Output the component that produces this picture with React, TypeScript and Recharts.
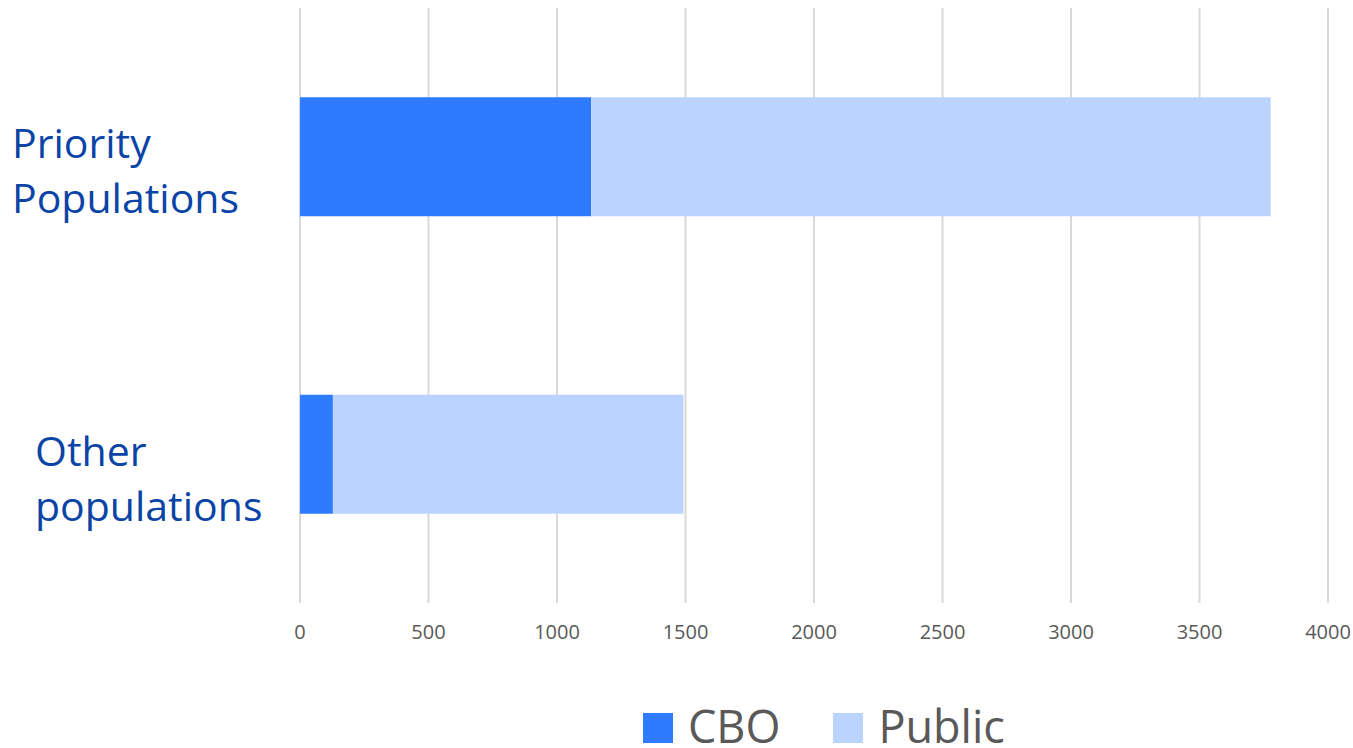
import React from "react";
import { BarChart, Bar, XAxis, YAxis, CartesianGrid, Legend } from "recharts";

const categories = ["Priority Populations", "Other populations"];
const cboValues = [1133, 128];
const publicValues = [2644, 1364];
const xTicks = [0, 500, 1000, 1500, 2000, 2500, 3000, 3500, 4000];
const seriesNames = ["CBO", "Public"];

const data = categories.map((name, i) => ({
  name,
  cbo: cboValues[i],
  pub: publicValues[i],
}));

const FONT = "'Open Sans', 'Liberation Sans', sans-serif";
const CBO_COLOR = "#2F7BFF";
const PUBLIC_COLOR = "#BBD4FF";
const LABEL_COLOR = "#0A44A6";
const GREY_TEXT = "#595959";

// label placement styling (Excel-like offsets)
const TICK_STYLE: Record<string, { dx: number; dy: number }> = {
  "Priority Populations": { dx: 0, dy: 0 },
  "Other populations": { dx: 23, dy: 11 },
};

const CategoryTick = (props: any) => {
  const { y, payload } = props;
  const label: string = payload.value;
  const words = label.split(" ");
  const st = TICK_STYLE[label] || { dx: 0, dy: 0 };
  return (
    <text
      x={4 + st.dx}
      y={y + st.dy}
      fill={LABEL_COLOR}
      fontFamily={FONT}
      fontSize={41}
      textAnchor="start"
    >
      {words.map((w, i) => (
        <tspan key={i} x={4 + st.dx} y={y + st.dy + 1 + i * 55}>
          {w}
        </tspan>
      ))}
    </text>
  );
};

const LegendContent = () => {
  const colors = [CBO_COLOR, PUBLIC_COLOR];
  return (
    <div
      style={{
        height: 95,
        display: "flex",
        alignItems: "flex-end",
        paddingLeft: 635,
        paddingBottom: 5,
        boxSizing: "border-box",
        fontFamily: FONT,
      }}
    >
      {seriesNames.map((n, i) => (
        <div
          key={n}
          style={{
            display: "flex",
            alignItems: "center",
            height: 30,
            marginLeft: i === 0 ? 0 : 53,
          }}
        >
          <div style={{ width: 30, height: 30, background: colors[i], marginRight: 15 }} />
          <span
            style={{
              display: "inline-block",
              height: 30,
              fontSize: 45,
              lineHeight: "30px",
              color: GREY_TEXT,
              position: "relative",
              top: -2,
              whiteSpace: "nowrap",
            }}
          >
            {n}
          </span>
        </div>
      ))}
    </div>
  );
};

export default function App() {
  return (
    <div style={{ position: "absolute", top: 8, left: 8, width: 1345, height: 740 }}>
      <BarChart
        width={1345}
        height={740}
        data={data}
        layout="vertical"
        margin={{ top: 0, right: 25, left: 0, bottom: 0 }}
        barCategoryGap="30%"
        style={{ overflow: "visible" }}
      >
        <CartesianGrid horizontal={false} stroke="#D9D9D9" strokeWidth={2} />
        <XAxis
          type="number"
          domain={[0, 4000]}
          ticks={xTicks}
          axisLine={false}
          tickLine={false}
          tickSize={0}
          tickMargin={22}
          height={50}
          interval={0}
          tick={{ fill: GREY_TEXT, fontSize: 20, fontFamily: FONT }}
        />
        <YAxis
          type="category"
          dataKey="name"
          width={292}
          axisLine={false}
          tickLine={false}
          tick={<CategoryTick />}
        />
        <Legend verticalAlign="bottom" content={<LegendContent />} />
        <Bar dataKey="cbo" name="CBO" stackId="a" fill={CBO_COLOR} isAnimationActive={false} />
        <Bar dataKey="pub" name="Public" stackId="a" fill={PUBLIC_COLOR} isAnimationActive={false} />
      </BarChart>
    </div>
  );
}
